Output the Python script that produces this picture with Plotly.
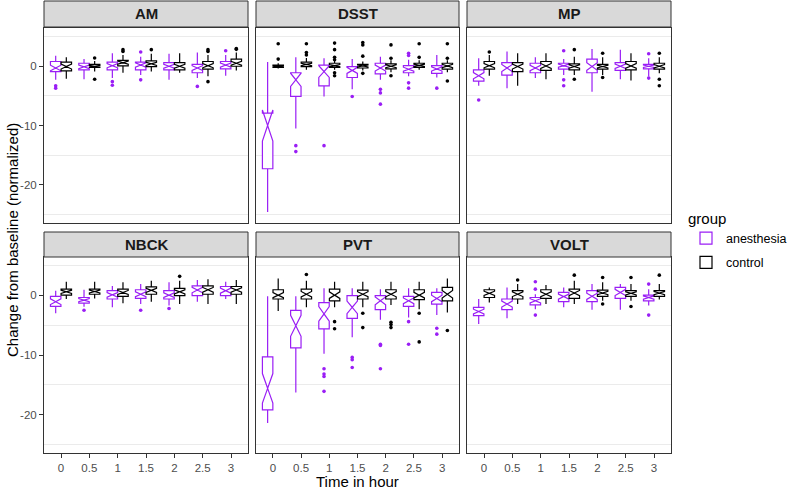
import plotly.graph_objects as go

TESTS = ["AM", "DSST", "MP", "NBCK", "PVT", "VOLT"]
TIMES = ["0", "0.5", "1", "1.5", "2", "2.5", "3"]
GROUPS = ["anesthesia", "control"]
COLORS = {"anesthesia": "#9A1EF5", "control": "#000000"}
N_PER_BOX = 32  # approx. subjects per box (used for ggplot-style notch span)

# rows per time point: [lower whisker, q1, median, q3, upper whisker]
AM_ANES = [[-2.3, -0.9, -0.3, 0.8, 1.75], [-2.2, -0.6, -0.1, 0.5, 1.2], [-2.0, -0.6, 0.1, 0.7, 2.2],
           [-1.5, -0.6, 0.2, 0.7, 1.6], [-2.3, -0.6, 0.0, 0.6, 2.1], [-2.0, -1.1, -0.3, 0.3, 2.3],
           [-1.6, -0.45, 0.2, 0.8, 1.9]]
AM_CTRL = [[-2.1, -0.8, -0.05, 0.7, 1.5], [-0.9, -0.2, 0.0, 0.3, 0.9], [-1.1, 0.05, 0.6, 1.0, 1.9],
           [-0.9, -0.05, 0.4, 0.9, 2.1], [-1.1, -0.6, 0.0, 0.6, 2.2], [-1.7, -0.5, 0.1, 0.8, 1.9],
           [-0.7, 0.0, 0.5, 1.2, 2.3]]
DSST_ANES = [[-24.6, -17.3, -10.0, -7.9, 0.7], [-10.5, -5.1, -2.3, -1.1, 1.5], [-5.1, -3.3, -0.9, 0.2, 1.35],
             [-3.9, -1.9, -0.7, -0.05, 1.2], [-2.3, -1.3, -0.3, 0.5, 1.6], [-1.7, -1.1, -0.5, 0.1, 1.1],
             [-1.9, -1.2, -0.45, 0.1, 1.9]]
DSST_CTRL = [[-0.4, -0.2, 0.0, 0.2, 0.5], [-0.6, -0.05, 0.3, 0.7, 1.4], [-0.6, -0.2, 0.1, 0.5, 0.9],
             [-0.7, -0.3, 0.05, 0.3, 0.8], [-1.0, -0.45, 0.0, 0.4, 1.0], [-0.6, -0.2, 0.15, 0.5, 1.0],
             [-1.0, -0.5, 0.05, 0.5, 1.0]]
MP_ANES = [[-3.3, -2.5, -1.6, -0.6, 1.35], [-3.7, -1.5, -0.3, 0.6, 2.5], [-2.0, -1.1, -0.3, 0.5, 1.5],
           [-1.5, -0.5, 0.1, 0.5, 1.2], [-4.3, -1.1, -0.05, 1.2, 2.9], [-2.2, -0.7, 0.0, 0.6, 2.8],
           [-1.75, -0.45, 0.0, 0.3, 1.35]]
MP_CTRL = [[-1.6, -0.5, 0.1, 0.8, 1.9], [-3.3, -0.9, -0.05, 0.6, 2.2], [-2.2, -0.7, 0.05, 0.8, 2.2],
           [-1.5, -0.6, -0.05, 0.4, 1.6], [-1.5, -0.5, -0.05, 0.3, 1.5], [-2.4, -0.6, 0.05, 0.8, 2.2],
           [-1.2, -0.5, 0.0, 0.5, 1.5]]
NBCK_ANES = [[-3.0, -1.85, -1.05, -0.15, 0.8], [-1.9, -1.3, -0.8, -0.35, 0.95], [-2.0, -0.6, 0.1, 0.8, 1.6],
             [-1.45, -0.5, 0.2, 0.95, 1.9], [-1.7, -0.6, 0.05, 0.8, 2.2], [-1.05, -0.05, 0.9, 1.6, 2.6],
             [-0.6, -0.05, 0.8, 1.5, 2.3]]
NBCK_CTRL = [[-0.6, 0.05, 0.6, 1.05, 2.3], [-0.5, 0.2, 0.65, 1.05, 2.3], [-1.3, -0.15, 0.5, 1.05, 2.2],
             [-1.05, 0.2, 0.85, 1.45, 2.45], [-1.45, -0.05, 0.6, 1.2, 2.45], [-1.45, 0.2, 0.95, 1.6, 2.7],
             [-1.45, 0.2, 0.9, 1.5, 2.6]]
PVT_ANES = [[-21.4, -19.2, -15.6, -10.3, -0.15], [-16.3, -8.8, -5.1, -2.5, -0.15], [-9.8, -5.6, -3.1, -1.2, 1.2],
            [-7.0, -3.85, -2.0, -0.05, 1.2], [-4.1, -2.4, -0.9, -0.05, 1.05], [-3.7, -1.85, -0.9, -0.15, 1.2],
            [-3.3, -1.45, -0.5, 0.5, 1.2]]
PVT_CTRL = [[-2.6, -0.6, 0.05, 0.95, 2.85], [-2.0, -0.6, 0.2, 1.05, 2.45], [-2.0, -0.9, 0.05, 1.05, 2.3],
            [-2.0, -0.6, 0.2, 0.9, 2.3], [-1.6, -0.6, 0.2, 0.95, 2.3], [-2.3, -0.7, 0.05, 0.95, 2.3],
            [-2.85, -0.9, 0.2, 1.35, 2.85]]
VOLT_ANES = [[-4.8, -3.4, -2.7, -2.0, -0.6], [-3.85, -2.4, -1.45, -0.6, 1.35], [-2.3, -1.6, -0.9, -0.35, 0.2],
             [-2.0, -1.05, -0.2, 0.5, 1.35], [-2.4, -1.05, -0.15, 0.8, 1.9], [-2.4, -0.5, 0.5, 1.35, 1.9],
             [-1.7, -0.9, -0.35, 0.05, 1.05]]
VOLT_CTRL = [[-1.2, -0.35, 0.35, 0.95, 1.35], [-1.45, -0.6, 0.2, 0.8, 1.9], [-1.45, -0.5, 0.2, 0.95, 1.75],
             [-1.45, -0.5, 0.4, 1.05, 2.45], [-0.9, -0.15, 0.4, 0.9, 2.2], [-0.9, -0.15, 0.35, 0.8, 1.9],
             [-0.7, -0.15, 0.4, 0.8, 1.9]]

# outliers per time point
AM_ANES_OUT = [[-3.3, -3.7], [], [-2.6, -3.2], [2.4, -2.3], [], [-3.4], [2.6]]
AM_CTRL_OUT = [[], [1.4, -2.2], [2.8, 2.5], [2.8], [], [2.8, 2.5, -2.6], [3.0, 2.85]]
DSST_ANES_OUT = [[], [-13.4, -14.4], [-13.4], [-5.1], [-3.9, -4.5, -6.4], [2.2, 1.8, -2.8, -3.7], [-3.7]]
DSST_CTRL_OUT = [[3.8, 1.2], [3.8, 2.3, 1.9], [3.9, 2.8, 1.5, 1.1, -1.1, -1.6], [4.0, 3.6, 1.7, -1.2],
                 [3.6, 1.35, -1.6], [3.8, 1.5], [3.8, 1.35, -2.5]]
MP_ANES_OUT = [[-5.7], [], [], [2.6, -2.3, -3.3], [], [], [2.1, -2.0]]
MP_CTRL_OUT = [[2.4], [], [], [2.8, -2.2], [2.2, -1.9], [], [2.2, -2.2, -3.3]]
NBCK_ANES_OUT = [[], [-2.5], [], [-2.5], [-2.2], [], []]
NBCK_CTRL_OUT = [[], [], [], [], [3.2], [], []]
PVT_ANES_OUT = [[], [], [-12.3, -13.2, -13.6, -16.1], [-10.4, -10.8, -12.1], [-8.2, -8.4, -12.3],
                [-4.4, -8.2], [-5.5, -6.5]]
PVT_CTRL_OUT = [[], [3.5], [-4.4, -5.6], [-3.0, -5.4], [-4.5, -4.9, -5.4], [-3.0, -7.8], [-5.9]]
VOLT_ANES_OUT = [[], [], [2.3, 1.05, -3.3], [], [], [], [1.9, -3.3]]
VOLT_CTRL_OUT = [[], [2.6], [], [3.4], [3.0, -1.45], [3.0, -1.85], [3.4]]

STATS = {
    "AM": (AM_ANES, AM_CTRL), "DSST": (DSST_ANES, DSST_CTRL), "MP": (MP_ANES, MP_CTRL),
    "NBCK": (NBCK_ANES, NBCK_CTRL), "PVT": (PVT_ANES, PVT_CTRL), "VOLT": (VOLT_ANES, VOLT_CTRL),
}
OUTS = {
    "AM": (AM_ANES_OUT, AM_CTRL_OUT), "DSST": (DSST_ANES_OUT, DSST_CTRL_OUT), "MP": (MP_ANES_OUT, MP_CTRL_OUT),
    "NBCK": (NBCK_ANES_OUT, NBCK_CTRL_OUT), "PVT": (PVT_ANES_OUT, PVT_CTRL_OUT),
    "VOLT": (VOLT_ANES_OUT, VOLT_CTRL_OUT),
}

W, H = 787, 489
FONT = "Liberation Sans, Arial, sans-serif"
DODGE = 0.1875
BOXW = 0.37
XCOLS = [(44, 248), (256, 459), (467, 671)]
YROWS = [(28, 223), (257, 453)]
STRIPS = [(1, 27), (232, 257)]
YRANGE = [-26.45, 6.45]

fig = go.Figure()
shapes, annotations = [], []

for k, test in enumerate(TESTS):
    row, col = divmod(k, 3)
    ax = "" if k == 0 else str(k + 1)
    for gi, grp in enumerate(GROUPS):
        rows = STATS[test][gi]
        off = -DODGE if gi == 0 else DODGE
        pos = [i + off for i in range(len(TIMES))]
        lo = [r[0] for r in rows]
        q1 = [r[1] for r in rows]
        med = [r[2] for r in rows]
        q3 = [r[3] for r in rows]
        hi = [r[4] for r in rows]
        notch = [1.58 * (b - a) / N_PER_BOX ** 0.5 for a, b in zip(q1, q3)]
        fig.add_trace(go.Box(
            x=pos, q1=q1, median=med, q3=q3, lowerfence=lo, upperfence=hi,
            notched=True, notchspan=notch, notchwidth=0.5, whiskerwidth=0,
            width=BOXW, boxpoints=False, name=grp, legendgroup=grp, showlegend=(k == 0),
            line=dict(color=COLORS[grp], width=1.2), fillcolor="white",
            xaxis="x" + ax, yaxis="y" + ax,
        ))
        ox, oy = [], []
        for i, vals in enumerate(OUTS[test][gi]):
            for v in vals:
                ox.append(i + off)
                oy.append(v)
        fig.add_trace(go.Scatter(
            x=ox, y=oy, mode="markers", marker=dict(color=COLORS[grp], size=3.6),
            showlegend=False, legendgroup=grp, xaxis="x" + ax, yaxis="y" + ax, hoverinfo="y",
        ))

    x0, x1 = XCOLS[col]
    y0, y1 = YROWS[row]
    common = dict(showline=True, mirror=True, linecolor="#333333", linewidth=1, zeroline=False,
                  tickfont=dict(family=FONT, size=11.5, color="#4D4D4D"), tickcolor="#333333", ticklen=4)
    fig.layout["xaxis" + ax] = dict(
        domain=[x0 / W, x1 / W], anchor="y" + ax, range=[-0.6, 6.6],
        tickvals=list(range(len(TIMES))), ticktext=TIMES, showticklabels=(row == 1),
        ticks="outside" if row == 1 else "", showgrid=False, **common)
    fig.layout["yaxis" + ax] = dict(
        domain=[1 - y1 / H, 1 - y0 / H], anchor="x" + ax, range=YRANGE,
        tickvals=[0, -10, -20], ticktext=["0", "-10", "-20"], showticklabels=(col == 0),
        ticks="outside" if col == 0 else "", showgrid=False,
        minor=dict(tickvals=[5, -5, -15, -25], showgrid=True, gridcolor="#EBEBEB", gridwidth=1, ticks=""),
        **common)
    s0, s1 = STRIPS[row]
    shapes.append(dict(type="rect", xref="paper", yref="paper", x0=x0 / W, x1=x1 / W,
                       y0=1 - s1 / H, y1=1 - s0 / H, fillcolor="#D9D9D9",
                       line=dict(color="#333333", width=1), layer="above"))
    annotations.append(dict(text="<b>%s</b>" % test, xref="paper", yref="paper",
                            x=(x0 + x1) / 2 / W, y=1 - (s0 + s1) / 2 / H, showarrow=False,
                            font=dict(family=FONT, size=15, color="#1A1A1A"),
                            xanchor="center", yanchor="middle"))

annotations.append(dict(text="Time in hour", xref="paper", yref="paper", x=(44 + 671) / 2 / W,
                        y=1 - 481 / H, showarrow=False, font=dict(family=FONT, size=15, color="black"),
                        xanchor="center", yanchor="middle"))
annotations.append(dict(text="Change from baseline (normalized)", xref="paper", yref="paper",
                        x=12 / W, y=1 - 240 / H, showarrow=False, textangle=-90,
                        font=dict(family=FONT, size=15, color="black"), xanchor="center", yanchor="middle"))

fig.update_layout(
    width=W, height=H, margin=dict(l=0, r=0, t=0, b=0, autoexpand=False),
    plot_bgcolor="white", paper_bgcolor="white", boxmode="overlay",
    shapes=shapes, annotations=annotations,
    font=dict(family=FONT, color="black"),
    legend=dict(title=dict(text="group", font=dict(family=FONT, size=15, color="black")),
                x=686 / W, y=1 - 204 / H, xanchor="left", yanchor="top",
                font=dict(family=FONT, size=12.5, color="black"), bgcolor="rgba(0,0,0,0)",
                tracegroupgap=5),
)

fig.write_html("out.html", config={"displayModeBar": False},
               post_script="document.body.style.margin='0';document.body.style.padding='0';")
